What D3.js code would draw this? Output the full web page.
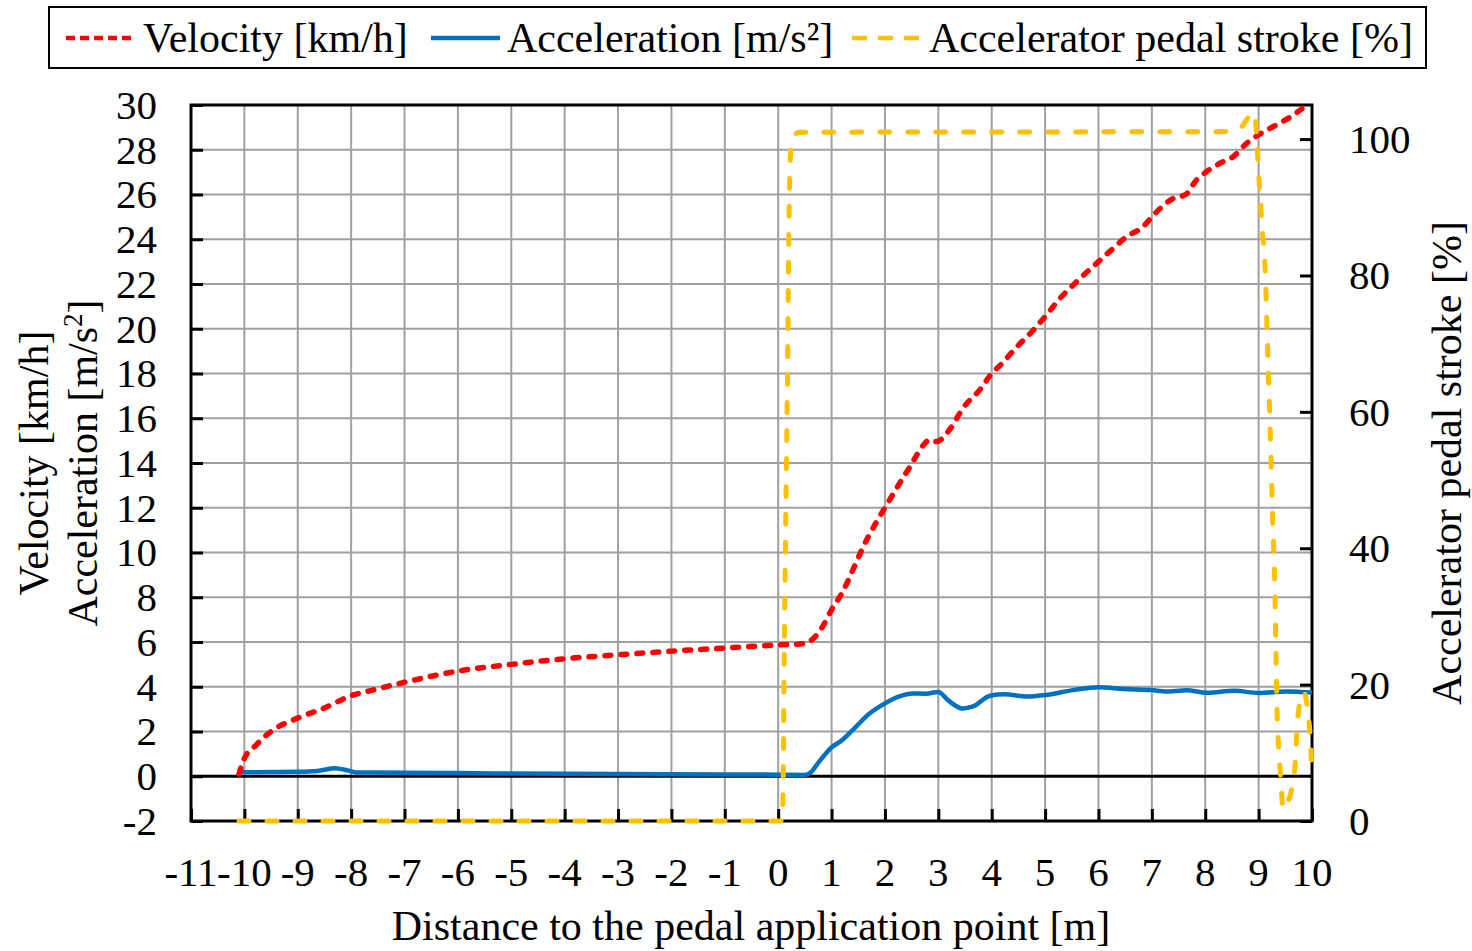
<!DOCTYPE html>
<html>
<head>
<meta charset="utf-8">
<script src="https://cdn.jsdelivr.net/npm/d3@7"></script>
<style>
  html, body { margin: 0; padding: 0; background: #fff; }
  svg { display: block; }
  text { font-family: "Liberation Serif", "Times New Roman", serif; fill: #000; }
</style>
</head>
<body>
<svg id="chart" width="1472" height="951"></svg>
<script>
// Velocity [km/h] vs distance [m]
const velocityX = [-10.1, -10.05, -10.0, -9.8, -9.5, -9.0, -8.5, -8.0, -7.6, -7.0, -6.0, -5.0, -4.0, -3.0, -2.0, -1.0, 0.0,
  0.45, 0.66, 0.84, 1.0, 1.19, 1.41, 1.59, 1.84, 2.0, 2.22, 2.47, 2.72, 2.84, 2.97, 3.22, 3.47, 3.78, 4.0, 4.16, 4.47,
  4.78, 5.0, 5.28, 5.59, 6.0, 6.28, 6.53, 6.84, 7.0, 7.16, 7.41, 7.63, 7.84, 8.03, 8.28, 8.53, 8.78, 9.0, 9.34, 9.66, 9.9];
const velocityY = [0.1, 0.5, 0.8, 1.35, 2.0, 2.6, 3.05, 3.6, 3.85, 4.2, 4.7, 5.0, 5.25, 5.43, 5.59, 5.73, 5.87,
  5.92, 6.16, 6.72, 7.44, 8.16, 9.28, 10.24, 11.36, 12.0, 12.88, 13.84, 14.8, 15.04, 14.96, 15.52, 16.48, 17.28, 18.0, 18.37, 19.19,
  19.94, 20.54, 21.36, 22.1, 23.0, 23.6, 24.12, 24.57, 25.0, 25.39, 25.84, 25.99, 26.66, 27.03, 27.4, 27.7, 28.3, 28.67, 29.12, 29.57, 30.0];

// Acceleration [m/s²] vs distance [m]
const accelX = [-10.1, -10.08, -10.0, -9.5, -9.0, -8.6, -8.3, -8.05, -7.9, -7.0, -6.0, -5.0, -4.0, -3.0, -2.0, -1.0, 0.0, 0.5,
  0.6, 0.75, 0.99, 1.2, 1.45, 1.71, 1.96, 2.27, 2.52, 2.77, 3.0, 3.19, 3.45, 3.65, 3.97, 4.23, 4.68, 5.0, 5.52, 6.0, 6.48,
  7.0, 7.26, 7.65, 8.03, 8.55, 9.0, 9.52, 10.0];
const accelY = [0.0, 0.25, 0.18, 0.19, 0.2, 0.25, 0.36, 0.25, 0.17, 0.16, 0.14, 0.12, 0.11, 0.1, 0.09, 0.08, 0.07, 0.06,
  0.15, 0.6, 1.27, 1.62, 2.2, 2.8, 3.2, 3.57, 3.7, 3.69, 3.77, 3.38, 3.03, 3.12, 3.6, 3.66, 3.56, 3.63, 3.85, 3.98, 3.9,
  3.85, 3.79, 3.84, 3.73, 3.82, 3.72, 3.79, 3.74];

// Accelerator pedal stroke [%] vs distance [m]
const pedalX = [-10.1, 0.08, 0.12, 0.17, 0.21, 0.24, 0.3, 0.4, 8.47, 8.66, 8.78, 8.92, 8.96, 9.0, 9.03, 9.06, 9.13, 9.16,
  9.21, 9.26, 9.31, 9.33, 9.35, 9.38, 9.41, 9.44, 9.47, 9.52, 9.6, 9.65, 9.69, 9.72, 9.76, 9.81, 9.84, 9.88, 9.93, 9.97, 10.0];
const pedalY = [0, 0, 30, 62, 92, 98.5, 100.5, 101, 101.1, 101.6, 102.9, 103.9, 101, 95, 91.5, 87.6, 79.3, 71.4,
  59.1, 45, 31.9, 22, 15, 10, 6.9, 3.0, 1.7, 2.5, 4, 6, 9, 13.8, 16.8, 18.7, 18.9, 18.3, 15.5, 12, 6.5];

// Axis ticks
const xTicks = d3.range(-11, 11);
const yLeftTicks = d3.range(-2, 31, 2);
const yRightTicks = [0, 20, 40, 60, 80, 100];

const svg = d3.select("#chart");
const plot = { left: 191, right: 1312, top: 105, bottom: 821 };

const x = d3.scaleLinear().domain([-11, 10]).range([plot.left, plot.right]);
const yL = d3.scaleLinear().domain([-2, 30]).range([plot.bottom, plot.top]);
const yR = d3.scaleLinear().domain([0, 105]).range([plot.bottom, plot.top]);

const gridColor = "#a0a0a0";

// Gridlines
const grid = svg.append("g");
grid.selectAll("line.v").data(xTicks.filter(d => d > -11 && d < 10)).join("line")
  .attr("x1", d => x(d)).attr("x2", d => x(d))
  .attr("y1", plot.top).attr("y2", plot.bottom)
  .attr("stroke", gridColor).attr("stroke-width", 2);
grid.selectAll("line.h").data(yLeftTicks.filter(d => d > -2 && d < 30 && d !== 0)).join("line")
  .attr("x1", plot.left).attr("x2", plot.right)
  .attr("y1", d => yL(d)).attr("y2", d => yL(d))
  .attr("stroke", gridColor).attr("stroke-width", 2);

// Zero line
svg.append("line")
  .attr("x1", plot.left).attr("x2", plot.right)
  .attr("y1", yL(0)).attr("y2", yL(0))
  .attr("stroke", "#000").attr("stroke-width", 3);

// Axes with inward ticks
const fontSize = 41;
const axisBottom = d3.axisTop(x).tickValues(xTicks).tickSize(12).tickFormat("");
const gx = svg.append("g").attr("transform", `translate(0,${plot.bottom})`).call(axisBottom);
const axisLeft = d3.axisRight(yL).tickValues(yLeftTicks).tickSize(12).tickFormat("");
const gyl = svg.append("g").attr("transform", `translate(${plot.left},0)`).call(axisLeft);
const axisRight = d3.axisLeft(yR).tickValues(yRightTicks).tickSize(12).tickFormat("");
const gyr = svg.append("g").attr("transform", `translate(${plot.right},0)`).call(axisRight);
[gx, gyl, gyr].forEach(g => {
  g.selectAll(".domain").remove();
  g.selectAll(".tick line").attr("stroke", "#000").attr("stroke-width", 3);
});

// Plot frame
svg.append("rect")
  .attr("x", plot.left).attr("y", plot.top)
  .attr("width", plot.right - plot.left).attr("height", plot.bottom - plot.top)
  .attr("fill", "none").attr("stroke", "#000").attr("stroke-width", 3);

// Tick labels
svg.append("g").selectAll("text").data(xTicks).join("text")
  .attr("x", d => x(d)).attr("y", 886)
  .attr("text-anchor", "middle").attr("font-size", fontSize)
  .text(d => d);
svg.append("g").selectAll("text").data(yLeftTicks).join("text")
  .attr("x", 157).attr("y", d => yL(d)).attr("dy", "0.34em")
  .attr("text-anchor", "end").attr("font-size", fontSize)
  .text(d => d);
svg.append("g").selectAll("text").data(yRightTicks).join("text")
  .attr("x", 1349).attr("y", d => yR(d)).attr("dy", "0.34em")
  .attr("text-anchor", "start").attr("font-size", fontSize)
  .text(d => d);

// Axis titles
svg.append("text").attr("x", 751).attr("y", 940)
  .attr("text-anchor", "middle").attr("font-size", 42)
  .text("Distance to the pedal application point [m]");
const midY = (plot.top + plot.bottom) / 2;
svg.append("text").attr("transform", `translate(48,${midY}) rotate(-90)`)
  .attr("text-anchor", "middle").attr("font-size", 42)
  .text("Velocity [km/h]");
const accTitle = svg.append("text").attr("transform", `translate(97,${midY}) rotate(-90)`)
  .attr("text-anchor", "middle").attr("font-size", 42);
accTitle.append("tspan").text("Acceleration [m/s");
accTitle.append("tspan").attr("font-size", 27).attr("dy", -15).text("2");
accTitle.append("tspan").attr("dy", 15).text("]");
svg.append("text").attr("transform", `translate(1461,${midY}) rotate(-90)`)
  .attr("text-anchor", "middle").attr("font-size", 42)
  .text("Accelerator pedal stroke [%]");

// Series
svg.append("clipPath").attr("id", "plot-clip").append("rect")
  .attr("x", plot.left - 2).attr("y", plot.top - 2)
  .attr("width", plot.right - plot.left + 6).attr("height", plot.bottom - plot.top + 6);

const lines = svg.append("g").attr("clip-path", "url(#plot-clip)");

const pedalLine = d3.line().x(d => x(d[0])).y(d => yR(d[1])).curve(d3.curveMonotoneX);
const leftLine = d3.line().x(d => x(d[0])).y(d => yL(d[1])).curve(d3.curveMonotoneX);

lines.append("path")
  .datum(d3.zip(accelX, accelY))
  .attr("d", leftLine)
  .attr("fill", "none").attr("stroke", "#0070c0").attr("stroke-width", 4.5)
  .attr("stroke-linejoin", "round");

lines.append("path")
  .datum(d3.zip(velocityX, velocityY))
  .attr("d", leftLine)
  .attr("fill", "none").attr("stroke", "#ff0000").attr("stroke-width", 5.5)
  .attr("stroke-linecap", "round").attr("stroke-dasharray", "6,10");

lines.append("path")
  .datum(d3.zip(pedalX, pedalY))
  .attr("d", pedalLine)
  .attr("fill", "none").attr("stroke", "#ffc000").attr("stroke-width", 5)
  .attr("stroke-linecap", "round").attr("stroke-dasharray", "10,18");

// Legend
const legend = svg.append("g");
legend.append("rect").attr("x", 49).attr("y", 7).attr("width", 1377).attr("height", 61)
  .attr("fill", "#fff").attr("stroke", "#000").attr("stroke-width", 2);
const legendItems = [
  { label: "Velocity [km/h]", color: "#ff0000", dash: "9,5", x1: 66, x2: 135, tx: 143 },
  { label: "Acceleration [m/s²]", color: "#0070c0", dash: null, x1: 431, x2: 500, tx: 507 },
  { label: "Accelerator pedal stroke [%]", color: "#ffc000", dash: "15,11", x1: 852, x2: 920, tx: 929 }
];
legendItems.forEach(it => {
  const l = legend.append("line").attr("x1", it.x1).attr("x2", it.x2).attr("y1", 38).attr("y2", 38)
    .attr("stroke", it.color).attr("stroke-width", 4.5);
  if (it.dash) l.attr("stroke-dasharray", it.dash);
  legend.append("text").attr("x", it.tx).attr("y", 52).attr("font-size", 42).text(it.label);
});
</script>
</body>
</html>
